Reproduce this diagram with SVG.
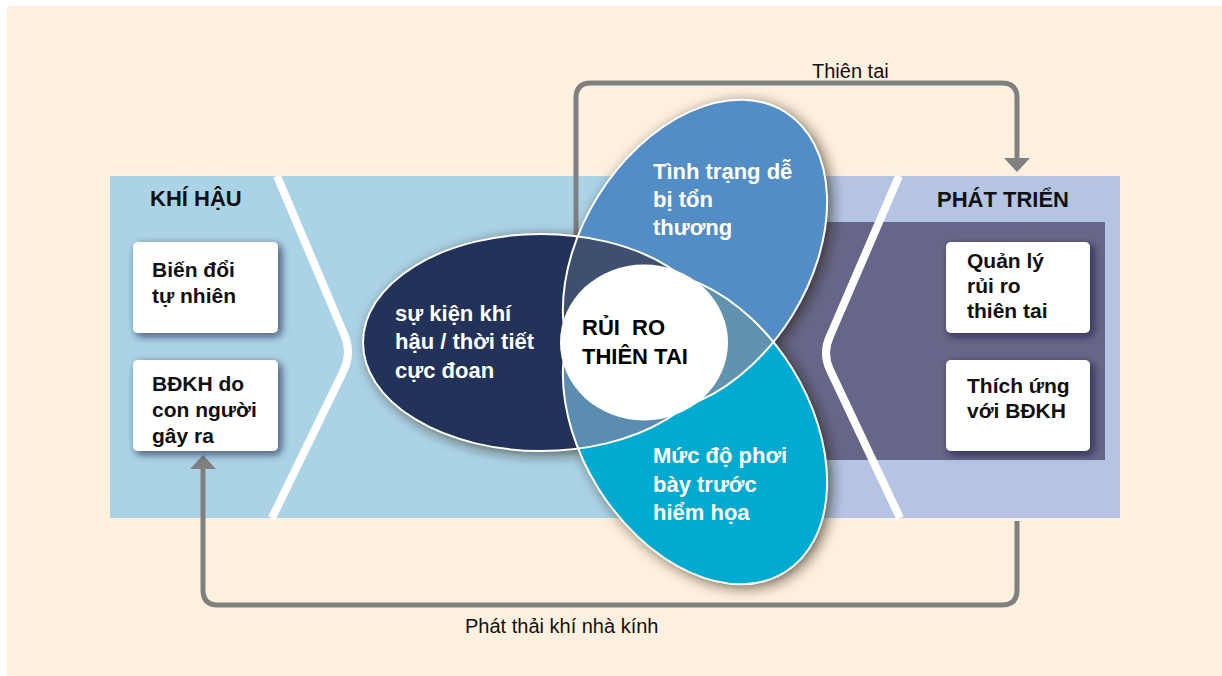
<svg xmlns="http://www.w3.org/2000/svg" width="1222" height="676" viewBox="0 0 1222 676">
<defs>
<style>
 text{font-family:"Liberation Sans",Arial,sans-serif;}
 .btxt{font-size:21px;font-weight:bold;fill:#111;}
 .etxt{font-size:22px;font-weight:bold;fill:#fff;}
 .ctxt{font-size:22px;font-weight:bold;fill:#000;}
 .ttl{font-size:22px;font-weight:bold;fill:#111;}
 .lbl{font-size:20px;fill:#111;}
 .conn{fill:none;stroke:#808080;stroke-width:5;}
 .chev{fill:none;stroke:#fff;stroke-width:8;stroke-linejoin:round;}
 .outl{fill:none;stroke:#fff;stroke-width:2;}
 .box{fill:#fff;}
</style>
<ellipse id="eN" cx="541" cy="342.5" rx="178" ry="108.5"/>
<ellipse id="eT" cx="0" cy="0" rx="170" ry="114" transform="translate(695,256) rotate(-58)"/>
<ellipse id="eC" cx="0" cy="0" rx="170" ry="114" transform="translate(695,428) rotate(58)"/>
<clipPath id="cN"><use href="#eN"/></clipPath>
<clipPath id="cT"><use href="#eT"/></clipPath>
<filter id="sh" x="-20%" y="-20%" width="140%" height="140%">
 <feDropShadow dx="4" dy="3" stdDeviation="7" flood-color="#221c12" flood-opacity="0.7"/>
</filter>
<filter id="bsh" x="-20%" y="-20%" width="140%" height="140%">
 <feDropShadow dx="3" dy="3" stdDeviation="4" flood-color="#141432" flood-opacity="0.7"/>
</filter>
<marker id="ah" markerUnits="userSpaceOnUse" markerWidth="14" markerHeight="26" viewBox="0 0 14 26" refX="0" refY="13" orient="auto">
 <path d="M0,0 L14,13 L0,26 z" fill="#808080"/>
</marker>
</defs>

<rect x="0" y="0" width="1222" height="676" fill="#ffffff"/>
<rect x="7" y="6" width="1215" height="670" fill="#FEF0DE"/>

<g id="panels">
 <rect x="110" y="176" width="660" height="342" fill="#ABD3E6"/>
 <rect x="760" y="176" width="360" height="342" fill="#B4C4E2"/>
 <rect x="760" y="222" width="345" height="238" fill="#666688"/>
 <path class="chev" d="M277,176 L344,334 Q352,352 344,370 L272,518"/>
 <path class="chev" d="M899,176 L830,336 Q822,353 830,370 L900,518"/>
</g>

<g id="connectors">
 <path class="conn" d="M576,245 L576,98 Q576,83 591,83 L1002,83 Q1017,83 1017,98 L1017,158" marker-end="url(#ah)"/>
 <path class="conn" d="M1017,521 L1017,590 Q1017,605 1002,605 L218,605 Q203,605 203,590 L203,469" marker-end="url(#ah)"/>
 <text class="lbl" x="812" y="78">Thiên tai</text>
 <text class="lbl" x="465" y="633">Phát thải khí nhà kính</text>
</g>

<g id="khi-hau">
 <text class="ttl" x="150" y="206">KHÍ HẬU</text>
</g>
<g id="phat-trien">
 <text class="ttl" x="937" y="207">PHÁT TRIỂN</text>
</g>

<g id="box-bien-doi">
 <rect class="box" x="133" y="242" width="145" height="91" rx="5" filter="url(#bsh)"/>
 <text class="btxt" x="152" y="277">Biến đổi</text>
 <text class="btxt" x="152" y="303">tự nhiên</text>
</g>
<g id="box-bdkh">
 <rect class="box" x="133" y="360" width="145" height="91" rx="5" filter="url(#bsh)"/>
 <text class="btxt" x="152" y="391">BĐKH do</text>
 <text class="btxt" x="152" y="417">con người</text>
 <text class="btxt" x="152" y="443">gây ra</text>
</g>
<g id="box-quan-ly">
 <rect class="box" x="946" y="242" width="144" height="91" rx="5" filter="url(#bsh)"/>
 <text class="btxt" x="967" y="268">Quản lý</text>
 <text class="btxt" x="967" y="293">rủi ro</text>
 <text class="btxt" x="967" y="318">thiên tai</text>
</g>
<g id="box-thich-ung">
 <rect class="box" x="946" y="360" width="144" height="91" rx="5" filter="url(#bsh)"/>
 <text class="btxt" x="967" y="393">Thích ứng</text>
 <text class="btxt" x="967" y="418">với BĐKH</text>
</g>

<g id="petals">
 <g filter="url(#sh)">
  <use href="#eN" fill="#233058"/>
  <use href="#eT" fill="#538DC5"/>
  <use href="#eC" fill="#02AAD1"/>
 </g>
 <g clip-path="url(#cN)"><use href="#eT" fill="#3F4F70"/></g>
 <g clip-path="url(#cN)"><use href="#eC" fill="#5A8DB0"/></g>
 <g clip-path="url(#cT)"><use href="#eC" fill="#6192AE"/></g>
 <use href="#eN" class="outl"/>
 <use href="#eT" class="outl"/>
 <use href="#eC" class="outl"/>
</g>

<g id="su-kien">
 <text class="etxt" x="395" y="321">sự kiện khí</text>
 <text class="etxt" x="395" y="349">hậu / thời tiết</text>
 <text class="etxt" x="395" y="378">cực đoan</text>
</g>
<g id="tinh-trang">
 <text class="etxt" x="653" y="179">Tình trạng dễ</text>
 <text class="etxt" x="653" y="207">bị tổn</text>
 <text class="etxt" x="653" y="235">thương</text>
</g>
<g id="muc-do">
 <text class="etxt" x="653" y="463">Mức độ phơi</text>
 <text class="etxt" x="653" y="492">bày trước</text>
 <text class="etxt" x="653" y="520">hiểm họa</text>
</g>
<g id="rui-ro">
 <ellipse cx="644" cy="342.5" rx="84" ry="78" fill="#ffffff"/>
 <text class="ctxt" x="582" y="335" xml:space="preserve">RỦI  RO</text>
 <text class="ctxt" x="582" y="364">THIÊN TAI</text>
</g>
</svg>
